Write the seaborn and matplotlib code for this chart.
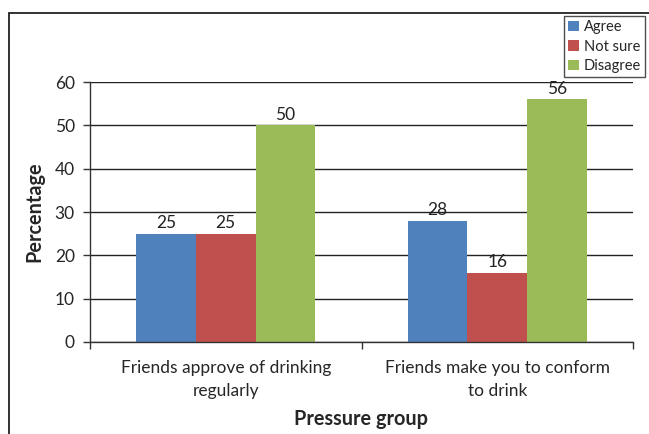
import matplotlib
matplotlib.use("Agg")
import matplotlib.pyplot as plt
import matplotlib.patches as mpatches
import seaborn as sns
import pandas as pd

categories = ["Friends approve of drinking\nregularly", "Friends make you to conform\nto drink"]
responses = ["Agree", "Not sure", "Disagree"]
agree = [25, 28]
not_sure = [25, 16]
disagree = [50, 56]
colors = ["#4F81BD", "#C0504D", "#9BBB59"]

rows = []
for resp, vals in zip(responses, [agree, not_sure, disagree]):
    for cat, v in zip(categories, vals):
        rows.append({"group": cat, "response": resp, "value": v})
df = pd.DataFrame(rows)

sns.set_theme(style="white")
plt.rcParams["font.family"] = ["Lato", "DejaVu Sans"]

fig = plt.figure(figsize=(6.49, 4.34), dpi=100)
ax = fig.add_axes([90 / 649, 1 - 342 / 434, (633 - 90) / 649, (342 - 82) / 434])

sns.barplot(data=df, x="group", y="value", hue="response", hue_order=responses,
            palette=colors, width=0.66, gap=0, saturation=1, ax=ax,
            edgecolor="none", linewidth=0)

for cont in ax.containers:
    ax.bar_label(cont, fmt="%d", fontsize=12.5, padding=2, color="#222222")

ax.set_ylim(0, 60)
ax.set_xlim(-0.5, 1.5)
ax.set_yticks(range(0, 61, 10))
ax.yaxis.grid(True, color="#222222", linewidth=1.0)
ax.set_axisbelow(True)
for s in ["top", "right"]:
    ax.spines[s].set_visible(False)
for s in ["left", "bottom"]:
    ax.spines[s].set_color("#333333")
    ax.spines[s].set_linewidth(1.0)

ax.set_xticks([-0.5, 0.5, 1.5], minor=True)
ax.tick_params(axis="x", which="major", length=0, labelsize=12.5, pad=13)
ax.tick_params(axis="x", which="minor", length=5, width=1, color="#333333", direction="out", bottom=True)
ax.tick_params(axis="y", length=5, width=1, color="#333333", direction="out", left=True,
               labelsize=12.5, pad=6)
for lab in ax.get_xticklabels():
    lab.set_horizontalalignment("center")
    lab.set_linespacing(1.55)

ax.set_xlabel("Pressure group", fontsize=14.3, fontweight="bold", labelpad=7)
ax.set_ylabel("Percentage", fontsize=14.3, fontweight="bold", labelpad=7)

leg = ax.legend(loc="upper left", bbox_to_anchor=(564 / 649, 1 - 16 / 434),
                bbox_transform=fig.transFigure, frameon=True, fontsize=10.5,
                handlelength=0.7, handleheight=0.7, handletextpad=0.35,
                labelspacing=0.36, borderpad=0.3, borderaxespad=0, fancybox=False)
leg.get_frame().set_edgecolor("#222222")
leg.get_frame().set_linewidth(1.0)

fig.patches.append(mpatches.Rectangle((8.5 / 649, -0.1), 2, 1.1 - 13.5 / 434,
                                      transform=fig.transFigure, fill=False,
                                      edgecolor="#222222", linewidth=1.3))

fig.savefig("out.png", dpi=100)
